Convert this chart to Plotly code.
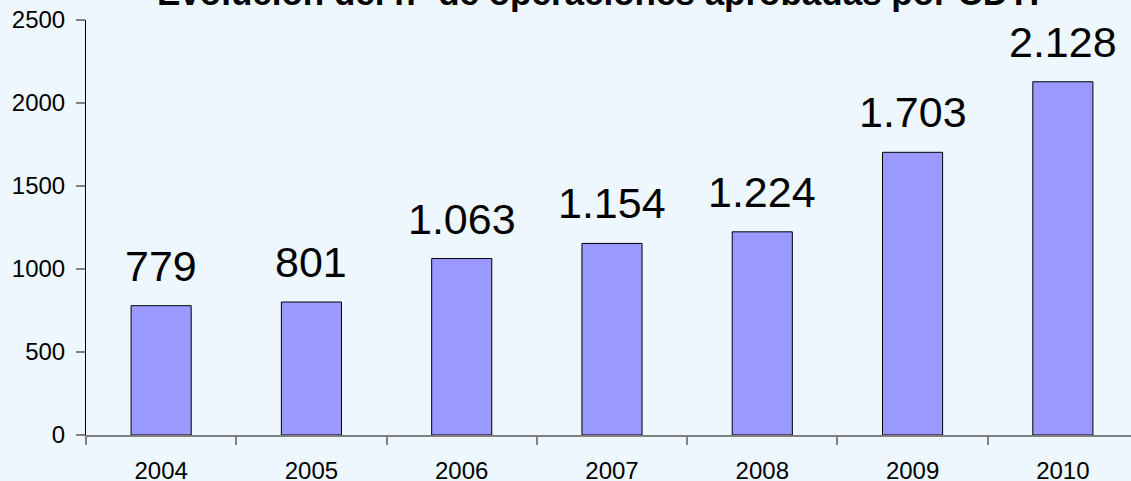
import plotly.graph_objects as go

years = ["2004", "2005", "2006", "2007", "2008", "2009", "2010"]
operaciones = [779, 801, 1063, 1154, 1224, 1703, 2128]
value_labels = ["779", "801", "1.063", "1.154", "1.224", "1.703", "2.128"]
y_ticks = [0, 500, 1000, 1500, 2000, 2500]
title_text = "Evolución del nº de operaciones aprobadas por CDTI"

BG = "#EEF7FE"
FONT = "Liberation Sans, Arial, sans-serif"

# plot area in the reference runs slightly past the right edge of the window
L, T, B = 86, 20, 46
W, H = 1138, 481

fig = go.Figure()
fig.add_trace(go.Bar(
    x=years, y=operaciones,
    marker=dict(color="#9999FF", line=dict(color="#000000", width=1)),
    hoverinfo="skip",
))

for i, (v, lab) in enumerate(zip(operaciones, value_labels)):
    fig.add_annotation(
        x=i, y=v, xref="x", yref="y", text=lab, showarrow=False,
        yanchor="bottom", yshift=14,
        font=dict(family=FONT, size=43, color="#000000"),
    )

fig.add_annotation(
    x=(598 - L) / (W - L), xref="paper", y=1.0, yref="paper",
    text="<b>" + title_text + "</b>",
    showarrow=False, xanchor="center", yanchor="bottom", yshift=6,
    font=dict(family=FONT, size=35, color="#000000"),
)

fig.update_layout(
    width=W, height=H,
    margin=dict(l=L, r=0, t=T, b=B),
    paper_bgcolor=BG, plot_bgcolor=BG,
    bargap=0.6,
    showlegend=False,
    font=dict(family=FONT, size=24, color="#000000"),
)
fig.update_xaxes(
    type="category", range=[-0.5, 6.5], automargin=False,
    showline=True, linecolor="#808080", linewidth=1.5,
    ticks="outside", tickson="boundaries", ticklen=8, tickcolor="#808080", tickwidth=1.5,
    showgrid=False, zeroline=False,
    tickfont=dict(family=FONT, size=24, color="#000000"),
    ticklabelstandoff=13, ticklabeloverflow="allow",
)
fig.update_yaxes(
    range=[0, 2500], tickvals=y_ticks, ticktext=[str(t) for t in y_ticks],
    automargin=False,
    showline=True, linecolor="#000000", linewidth=1,
    ticks="outside", ticklen=9, tickcolor="#808080", tickwidth=1.5,
    showgrid=False, zeroline=False,
    tickfont=dict(family=FONT, size=24, color="#000000"),
    ticklabelstandoff=6, ticklabeloverflow="allow",
)

fig.write_html(
    "out.html",
    config={"displayModeBar": False},
    post_script=(
        "document.body.style.margin='0px';"
        "document.body.style.overflow='hidden';"
        "document.body.style.background='" + BG + "';"
    ),
)
